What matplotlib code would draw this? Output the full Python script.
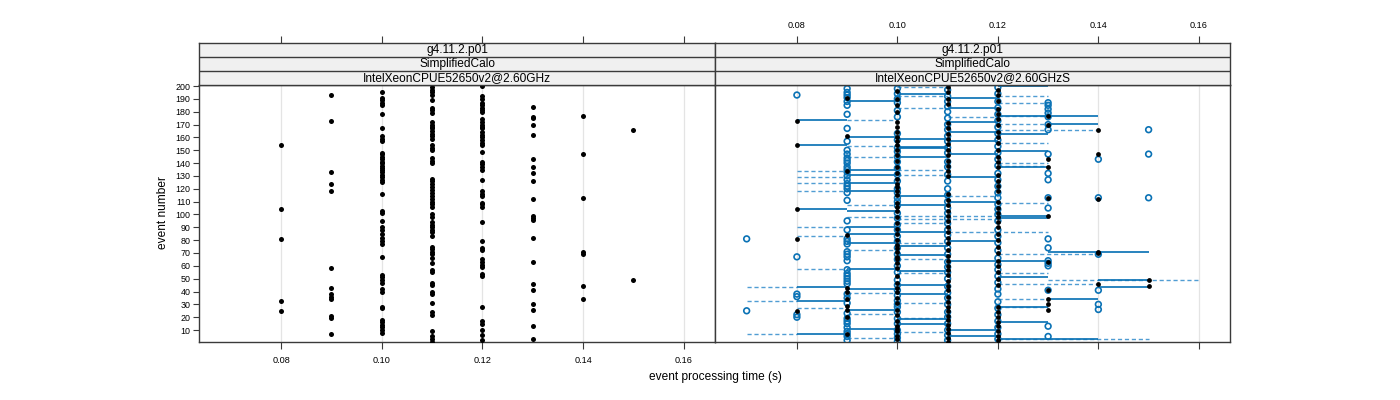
import matplotlib
matplotlib.use("Agg")
import matplotlib.pyplot as plt

plt.rcParams['font.family'] = ['Liberation Sans', 'DejaVu Sans']

# ---------------- data ----------------
strip_labels_left = ["g4.11.2.p01", "SimplifiedCalo", "IntelXeonCPUE52650v2@2.60GHz"]
strip_labels_right = ["g4.11.2.p01", "SimplifiedCalo", "IntelXeonCPUE52650v2@2.60GHzS"]
x_ticks = [0.08, 0.10, 0.12, 0.14, 0.16]
x_tick_labels = ["0.08", "0.10", "0.12", "0.14", "0.16"]
y_ticks = list(range(10, 201, 10))

# left panel: event numbers observed at each processing time
L_times = [0.08, 0.09, 0.10, 0.11, 0.12, 0.13, 0.14, 0.15]
L_080 = [25, 33, 81, 104, 154]
L_090 = [7, 19, 21, 34, 36, 38, 43, 58, 118, 124, 133, 173, 193]
L_100 = [8, 10, 12, 14, 16, 18, 27, 28, 40, 42, 47, 49, 51, 53, 67, 77, 79, 82, 85, 88,
         90, 95, 101, 103, 116, 125, 127, 129, 131, 133, 135, 136, 138, 140, 141, 143,
         145, 147, 148, 157, 159, 161, 167, 178, 185, 187, 189, 191, 195]
L_110 = [1, 3, 5, 9, 22, 24, 31, 38, 40, 45, 47, 55, 57, 62, 66, 69, 71, 73, 75, 83, 86,
         88, 90, 92, 94, 98, 100, 106, 108, 110, 112, 114, 117, 119, 121, 124, 126, 128,
         140, 142, 144, 150, 152, 154, 159, 161, 163, 165, 167, 168, 170, 172, 179, 181,
         183, 189, 193, 195, 197, 199]
L_120 = [2, 6, 10, 15, 17, 28, 52, 54, 59, 61, 63, 65, 72, 74, 79, 94, 106, 108, 109, 114,
         116, 118, 127, 135, 137, 139, 141, 149, 154, 156, 158, 160, 162, 164, 167, 168,
         170, 172, 174, 180, 181, 183, 185, 187, 190, 192, 200]
L_130 = [3, 13, 26, 30, 41, 46, 63, 82, 96, 97, 99, 112, 126, 132, 137, 143, 162, 170,
         175, 176, 184]
L_140 = [34, 44, 69, 71, 113, 147, 177]
L_150 = [49, 166]
L_events = [L_080, L_090, L_100, L_110, L_120, L_130, L_140, L_150]

# right panel: black points (event numbers at each time)
R_dot_times = [0.08, 0.09, 0.10, 0.11, 0.12, 0.13, 0.14, 0.15]
R_dot_080 = [25, 81, 104, 154, 173]
R_dot_090 = [7, 20, 26, 29, 34, 40, 43, 84, 134, 161, 191]
R_dot_100 = [3, 5, 9, 11, 13, 17, 22, 26, 31, 35, 40, 43, 47, 52, 58, 62, 65, 67, 71, 74,
             76, 80, 85, 89, 93, 98, 103, 106, 109, 115, 118, 121, 124, 128, 132, 137,
             142, 146, 150, 154, 157, 160, 164, 168, 172, 180, 185, 190, 196]
R_dot_110 = [1, 4, 8, 11, 14, 18, 21, 25, 28, 32, 36, 41, 44, 48, 53, 57, 60, 64, 68, 72,
             78, 82, 86, 90, 95, 99, 103, 107, 111, 116, 130, 134, 138, 142, 146, 150,
             155, 159, 163, 167, 171, 186, 190, 195, 199]
R_dot_120 = [2, 5, 9, 13, 16, 20, 24, 28, 45, 50, 55, 60, 64, 70, 75, 80, 85, 90, 94, 98,
             101, 105, 110, 118, 122, 126, 131, 137, 141, 145, 150, 156, 160, 164, 170,
             174, 178, 182, 188, 193, 197]
R_dot_130 = [26, 30, 34, 41, 63, 99, 113, 137, 143, 170, 177]
R_dot_140 = [46, 70, 71, 112, 147, 166]
R_dot_150 = [44, 49]
R_dot_events = [R_dot_080, R_dot_090, R_dot_100, R_dot_110, R_dot_120, R_dot_130,
                R_dot_140, R_dot_150]

# right panel: open blue circles (event numbers at each time)
R_circ_times = [0.07, 0.08, 0.09, 0.10, 0.11, 0.12, 0.13, 0.14, 0.15]
R_circ_070 = [25, 81]
R_circ_080 = [20, 22, 36, 38, 67, 193]
R_circ_090 = [2, 5, 7, 9, 12, 15, 17, 19, 23, 31, 35, 38, 46, 48, 50, 52, 54, 57, 64, 67,
              69, 71, 77, 79, 81, 88, 95, 111, 117, 120, 122, 124, 127, 130, 133, 135, 137,
              140, 142, 144, 147, 150, 157, 167, 178, 185, 188, 191, 193, 195, 198]
R_circ_100 = [1, 4, 7, 10, 15, 19, 24, 28, 30, 33, 37, 41, 45, 49, 55, 60, 65, 69, 74, 79,
              83, 88, 92, 97, 101, 107, 110, 113, 117, 120, 126, 131, 136, 141, 145, 149,
              152, 158, 163, 176, 181, 187, 190, 194, 198]
R_circ_110 = [2, 6, 10, 15, 20, 24, 30, 35, 39, 44, 50, 55, 59, 63, 69, 74, 79, 84, 88, 93,
              97, 101, 105, 110, 115, 120, 126, 131, 137, 141, 148, 152, 157, 161, 166,
              170, 175, 180, 184, 188, 192, 197]
R_circ_120 = [3, 7, 12, 17, 22, 27, 32, 38, 42, 47, 52, 57, 61, 66, 72, 78, 83, 88, 95,
              100, 104, 108, 113, 117, 122, 127, 132, 138, 143, 148, 153, 158, 163, 168,
              173, 178, 183, 188, 194, 199]
R_circ_130 = [5, 13, 41, 60, 62, 64, 74, 81, 105, 113, 127, 132, 147, 166, 170, 176, 179,
              182, 185, 187]
R_circ_140 = [26, 30, 41, 69, 113, 143]
R_circ_150 = [113, 147, 166]
R_circ_events = [R_circ_070, R_circ_080, R_circ_090, R_circ_100, R_circ_110, R_circ_120,
                 R_circ_130, R_circ_140, R_circ_150]

# right panel: solid connecting segments (event, from time, to time)
solid_event = [200, 194, 190.5, 188.6, 183, 176.5, 173.3, 171.7, 170.4, 164.5, 162.7,
               160.6, 158.8, 157, 154.1, 152.5, 151.5, 149.7, 147, 145, 136.7, 134.3,
               130.7, 129.4, 124.2, 118.2, 114.3, 109.9, 107.3, 104, 103, 99, 97.5, 90,
               86.6, 84.8, 79.6, 77.5, 75.4, 71, 68.4, 63.7, 57.7, 55.9, 51.5, 49, 44.8,
               43.5, 43.5, 41.6, 37.7, 33.9, 33, 27.9, 26, 18.3, 16.2, 14.4, 11, 10, 6.6,
               5.3, 2.7]
solid_from = [0.12, 0.10, 0.11, 0.09, 0.11, 0.12, 0.08, 0.11, 0.13, 0.11, 0.12,
              0.09, 0.10, 0.11, 0.08, 0.10, 0.10, 0.12, 0.11, 0.10, 0.12, 0.09,
              0.09, 0.11, 0.09, 0.09, 0.10, 0.11, 0.10, 0.08, 0.09, 0.12, 0.12, 0.09,
              0.10, 0.09, 0.11, 0.09, 0.10, 0.13, 0.10, 0.11, 0.09, 0.10, 0.12, 0.14, 0.10,
              0.08, 0.14, 0.09, 0.10, 0.13, 0.08, 0.12, 0.09, 0.10, 0.12, 0.10, 0.09, 0.11, 0.08,
              0.11, 0.12]
solid_to = [0.13, 0.11, 0.12, 0.10, 0.12, 0.14, 0.09, 0.12, 0.14, 0.12, 0.13,
            0.10, 0.11, 0.12, 0.09, 0.11, 0.11, 0.13, 0.12, 0.11, 0.13, 0.10,
            0.10, 0.12, 0.10, 0.10, 0.11, 0.12, 0.11, 0.09, 0.10, 0.13, 0.13, 0.10,
            0.11, 0.10, 0.12, 0.10, 0.11, 0.15, 0.11, 0.13, 0.10, 0.11, 0.13, 0.15, 0.11,
            0.09, 0.15, 0.10, 0.11, 0.14, 0.09, 0.13, 0.10, 0.11, 0.13, 0.11, 0.10, 0.12, 0.09,
            0.12, 0.14]

# right panel: dashed connecting segments (event, from time, to time)
dashed_event = [199, 192, 192, 186.8, 183, 177, 175.6, 173.3, 170.4, 165.8, 155.4, 153.6,
                145, 140, 137.7, 134.6, 133.6, 130.7, 129.4, 124.2, 118.2, 114.3, 108.6,
                107.3, 99, 97.7, 96.5, 93.6, 90, 86.6, 83.2, 77.5, 72.3, 69.2, 65, 57.7,
                54.1, 54.1, 49, 45.5, 43.5, 39, 33.9, 33, 31.3, 28.2, 26.8, 22.2, 19.6,
                8.4, 6.6, 4, 3.2, 2.7]
dashed_from = [0.10, 0.10, 0.12, 0.12, 0.10, 0.12, 0.11, 0.09, 0.12, 0.12, 0.12, 0.09,
               0.09, 0.12, 0.12, 0.10, 0.08, 0.10, 0.08, 0.08, 0.08, 0.11, 0.12,
               0.09, 0.10, 0.09, 0.10, 0.10, 0.08, 0.11, 0.08, 0.10, 0.09, 0.12, 0.10, 0.08,
               0.10, 0.12, 0.13, 0.12, 0.07, 0.09, 0.12, 0.07, 0.10, 0.12, 0.08, 0.09, 0.10,
               0.10, 0.07, 0.09, 0.12, 0.13]
dashed_to = [0.11, 0.11, 0.13, 0.13, 0.11, 0.13, 0.12, 0.10, 0.13, 0.14, 0.13, 0.10,
             0.10, 0.13, 0.13, 0.11, 0.09, 0.11, 0.09, 0.09, 0.09, 0.12, 0.13,
             0.10, 0.12, 0.10, 0.12, 0.11, 0.09, 0.13, 0.09, 0.11, 0.10, 0.14, 0.11, 0.09,
             0.11, 0.13, 0.16, 0.14, 0.08, 0.10, 0.13, 0.08, 0.11, 0.13, 0.09, 0.10, 0.11,
             0.11, 0.08, 0.10, 0.13, 0.15]

# ---------------- layout ----------------
W, H = 1400, 400
fig = plt.figure(figsize=(W / 100, H / 100), dpi=100)

def frac(x0, y0, x1, y1):
    return [x0 / W, 1 - y1 / H, (x1 - x0) / W, (y1 - y0) / H]

xlim = (0.0637, 0.1662)
ylim = (0.7, 200.8)
spine_col = "#3a3a3a"
grid_col = "#e4e4e4"
line_blue = "#0a72b5"
dash_blue = "#3d92cf"

panels = [(199, 715, strip_labels_left, True), (715, 1230, strip_labels_right, False)]
axes = []
for (x0, x1, labels, is_left) in panels:
    ax = fig.add_axes(frac(x0, 85, x1, 342))
    ax.set_xlim(*xlim)
    ax.set_ylim(*ylim)
    for t in x_ticks:
        ax.axvline(t, color=grid_col, lw=0.9, zorder=0)
    ax.set_xticks(x_ticks)
    ax.tick_params(axis='x', direction='out', length=5, width=0.8, color=spine_col,
                   labelsize=6.6, pad=5, bottom=True, top=False,
                   labelbottom=is_left)
    ax.set_xticklabels(x_tick_labels)
    if is_left:
        ax.set_yticks(y_ticks)
        ax.tick_params(axis='y', direction='out', length=4, width=0.8, color=spine_col,
                       labelsize=6.4, pad=2, left=True, right=False)
    else:
        ax.set_yticks([])
    for s in ax.spines.values():
        s.set_color(spine_col)
        s.set_linewidth(1.0)

    # strips
    sax = fig.add_axes(frac(x0, 42.5, x1, 85))
    sax.set_xlim(*xlim)
    sax.set_ylim(0, 3)
    sax.set_facecolor("#f0f0f0")
    for k, lab in enumerate(labels):
        yc = 2.5 - k
        sax.text(0.5, yc / 3, lab, transform=sax.transAxes, ha='center', va='center',
                 fontsize=8.6, color='black')
    for yb in (1, 2):
        sax.axhline(yb, color=spine_col, lw=1.0)
    sax.set_yticks([])
    sax.set_xticks(x_ticks)
    sax.tick_params(axis='x', direction='out', length=5, width=0.8, color=spine_col,
                    labelsize=6.6, pad=4, bottom=False, top=True, labelbottom=False,
                    labeltop=not is_left)
    sax.set_xticklabels(x_tick_labels)
    for s in sax.spines.values():
        s.set_color(spine_col)
        s.set_linewidth(1.0)
    axes.append(ax)

axL, axR = axes

# left panel points
xs, ys = [], []
for t, evs in zip(L_times, L_events):
    xs += [t] * len(evs)
    ys += evs
axL.scatter(xs, ys, s=13, color='black', linewidths=0, zorder=3)

# right panel segments
axR.hlines(dashed_event, dashed_from, dashed_to, colors=dash_blue, linewidths=1.0,
           linestyles=(0, (3.0, 2.0)), alpha=0.9, zorder=1)
axR.hlines(solid_event, solid_from, solid_to, colors=line_blue, linewidths=1.3,
           alpha=0.95, zorder=2)

# right panel circles
cx, cy = [], []
for t, evs in zip(R_circ_times, R_circ_events):
    cx += [t] * len(evs)
    cy += evs
axR.scatter(cx, cy, s=17, facecolors='none', edgecolors=line_blue, linewidths=1.2,
            zorder=3)

# right panel black dots
dx, dy = [], []
for t, evs in zip(R_dot_times, R_dot_events):
    dx += [t] * len(evs)
    dy += evs
axR.scatter(dx, dy, s=12, color='black', linewidths=0, zorder=4)

fig.text(163 / W, 1 - 213 / H, "event number", rotation=90, ha='center', va='center',
         fontsize=8.6)
fig.text(715 / W, 1 - 377 / H, "event processing time (s)", ha='center', va='center',
         fontsize=8.6)

fig.savefig("out.png", dpi=100)
